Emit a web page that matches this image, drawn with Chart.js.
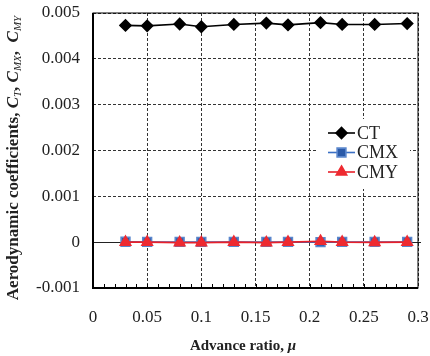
<!DOCTYPE html>
<html>
<head>
<meta charset="utf-8">
<script src="https://cdn.jsdelivr.net/npm/chart.js@4"></script>
<style>
  html, body { margin: 0; padding: 0; background: #fff; }
  #wrap { width: 430px; height: 356px; position: relative; }
</style>
</head>
<body>
<div id="wrap"><canvas id="coefChart"></canvas></div>
<script>
// Advance ratio and the three aerodynamic coefficients
const mu  = [0.03, 0.05, 0.08, 0.10, 0.13, 0.16, 0.18, 0.21, 0.23, 0.26, 0.29];
const ct  = [0.00473, 0.00472, 0.00476, 0.00470, 0.00475, 0.00478, 0.00474, 0.00479, 0.00475, 0.00475, 0.00477];
const cmx = [0.00001, 0.000005, 0.000005, 0.000005, 0.000005, 0.000005, 0.000005, 0.0, 0.000005, 0.000005, 0.000005];
const cmy = [0.0, 0.0, -0.00001, -0.00001, 0.0, -0.00001, 0.0, 0.00002, 0.0, -0.000005, 0.0];

const seriesNames = ['CT', 'CMX', 'CMY'];
const xTickLabels = ['0', '0.05', '0.1', '0.15', '0.2', '0.25', '0.3'];
const yTickLabels = ['-0.001', '0', '0.001', '0.002', '0.003', '0.004', '0.005'];

const SERIF = '"Liberation Serif", "Times New Roman", serif';

function toPoints(ys) {
    return mu.map((m, i) => ({ x: m, y: ys[i] }));
}

// Draws a run of text pieces with different fonts, subscripts lowered
function drawRichText(ctx, parts, cx, cy) {
    let total = 0;
    parts.forEach(p => { ctx.font = p.font; p.w = ctx.measureText(p.text).width; total += p.w; });
    let x = cx - total / 2;
    ctx.textBaseline = 'middle';
    ctx.textAlign = 'left';
    parts.forEach(p => {
        ctx.font = p.font;
        ctx.fillText(p.text, x, cy + (p.sub ? 4 : 0));
        x += p.w;
    });
}

// keep the plot area exactly where the layout padding puts it
function noScalePadding(scale) {
    scale.paddingLeft = 0;
    scale.paddingRight = 0;
    scale.paddingTop = 0;
    scale.paddingBottom = 0;
}

const decorPlugin = {
    id: 'decor',
    beforeDatasetsDraw(chart) {
        const { ctx, chartArea: a, scales: { y } } = chart;
        // solid zero line
        const y0 = Math.round(y.getPixelForValue(0)) + 0.5;
        ctx.save();
        ctx.strokeStyle = '#222';
        ctx.lineWidth = 1;
        ctx.beginPath();
        ctx.moveTo(a.left, y0);
        ctx.lineTo(a.right + 3, y0);
        ctx.stroke();
        ctx.restore();
    },
    afterDatasetsDraw(chart) {
        const { ctx, chartArea: a, scales: { x } } = chart;
        ctx.save();
        // frame: thin top/right, heavier left/bottom
        ctx.strokeStyle = '#000';
        ctx.lineWidth = 1;
        ctx.strokeRect(a.left, a.top, a.right - a.left, a.bottom - a.top);
        ctx.lineWidth = 2;
        ctx.beginPath();
        ctx.moveTo(a.left, a.top);
        ctx.lineTo(a.left, a.bottom);
        ctx.lineTo(a.right, a.bottom);
        ctx.stroke();
        // inward minor ticks along the bottom axis
        ctx.lineWidth = 1;
        ctx.beginPath();
        for (let k = 1; k < 30; k++) {
            const px = Math.round(x.getPixelForValue(k / 100)) + 0.5;
            ctx.moveTo(px, a.bottom);
            ctx.lineTo(px, a.bottom - 4);
        }
        ctx.stroke();
        ctx.restore();
    },
    afterDraw(chart) {
        const { ctx } = chart;
        ctx.save();
        ctx.fillStyle = '#222';
        // y axis title
        ctx.save();
        ctx.translate(14, 158);
        ctx.rotate(-Math.PI / 2);
        const b = 'bold 17px ' + SERIF, bi = 'bold italic 17px ' + SERIF, si = 'italic 11px ' + SERIF;
        drawRichText(ctx, [
            { text: 'Aerodynamic coefficients, ', font: b },
            { text: 'C', font: bi }, { text: 'T', font: si, sub: true },
            { text: ', ', font: b },
            { text: 'C', font: bi }, { text: 'MX', font: si, sub: true },
            { text: ',  ', font: b },
            { text: 'C', font: bi }, { text: 'MY', font: si, sub: true }
        ], 0, 0);
        ctx.restore();
        // x axis title
        drawRichText(ctx, [
            { text: 'Advance ratio, ', font: 'bold 15px ' + SERIF },
            { text: 'μ', font: 'bold italic 15px ' + SERIF }
        ], 243, 346);

        // legend box with line + marker samples
        ctx.fillStyle = '#fff';
        ctx.fillRect(318, 119, 92, 70);
        chart.data.datasets.forEach((ds, i) => {
            const ly = 133 + i * 19.5;
            ctx.strokeStyle = ds.borderColor;
            ctx.lineWidth = 1.6;
            ctx.beginPath();
            ctx.moveTo(328, ly);
            ctx.lineTo(355, ly);
            ctx.stroke();
            ctx.fillStyle = ds.pointBackgroundColor;
            ctx.strokeStyle = ds.pointBorderColor;
            Chart.helpers.drawPoint(ctx, {
                pointStyle: ds.pointStyle, radius: ds.pointRadius, borderWidth: 1
            }, 341.5, ly);
            ctx.fillStyle = '#222';
            ctx.font = '18px ' + SERIF;
            ctx.textAlign = 'left';
            ctx.textBaseline = 'middle';
            ctx.fillText(ds.label, 357, ly + 1);
        });
        ctx.restore();
    }
};

new Chart(document.getElementById('coefChart'), {
    type: 'line',
    data: {
        datasets: [
            {
                label: seriesNames[0], data: toPoints(ct), order: 2,
                borderColor: '#000', borderWidth: 1.6,
                pointStyle: 'rectRot', pointRadius: 5.5,
                pointBackgroundColor: '#000', pointBorderColor: '#000'
            },
            {
                label: seriesNames[1], data: toPoints(cmx), order: 1,
                borderColor: '#3a6fc4', borderWidth: 1.6,
                pointStyle: 'rect', pointRadius: 6.2,
                pointBackgroundColor: '#2b5aa8', pointBorderColor: '#5a86cc'
            },
            {
                label: seriesNames[2], data: toPoints(cmy), order: 0,
                borderColor: '#e8202a', borderWidth: 1.6,
                pointStyle: 'triangle', pointRadius: 6,
                pointBackgroundColor: '#ee2a30', pointBorderColor: '#ee2a30'
            }
        ]
    },
    options: {
        responsive: true,
        maintainAspectRatio: false,
        animation: false,
        layout: { padding: { top: 13, right: 12, left: 0, bottom: 0 } },
        plugins: { legend: { display: false }, tooltip: { enabled: false } },
        elements: { line: { tension: 0 }, point: { borderWidth: 1 } },
        scales: {
            x: {
                type: 'linear', min: 0, max: 0.3,
                afterBuildTicks(scale) {
                    scale.ticks = xTickLabels.map((t, i) => ({ value: i * 0.05 }));
                },
                afterFit(scale) { scale.height = 68; noScalePadding(scale); },
                grid: { color: '#333', lineWidth: 1, drawTicks: false },
                border: { display: false, dash: [3, 2] },
                ticks: {
                    padding: 19, color: '#222',
                    font: { family: SERIF, size: 17 },
                    maxRotation: 0,
                    callback: (v, i) => xTickLabels[i]
                }
            },
            y: {
                min: -0.001, max: 0.005,
                afterBuildTicks(scale) {
                    scale.ticks = yTickLabels.map((t, i) => ({ value: -0.001 + i * 0.001 }));
                },
                afterFit(scale) { scale.width = 93; noScalePadding(scale); },
                grid: { color: (c) => (c.index === 1 ? 'rgba(0,0,0,0)' : '#333'), lineWidth: 1, drawTicks: false },
                border: { display: false, dash: [3, 2] },
                ticks: {
                    padding: 13, color: '#222',
                    font: { family: SERIF, size: 17 },
                    callback: (v, i) => yTickLabels[i]
                }
            }
        }
    },
    plugins: [decorPlugin]
});
</script>
</body>
</html>
